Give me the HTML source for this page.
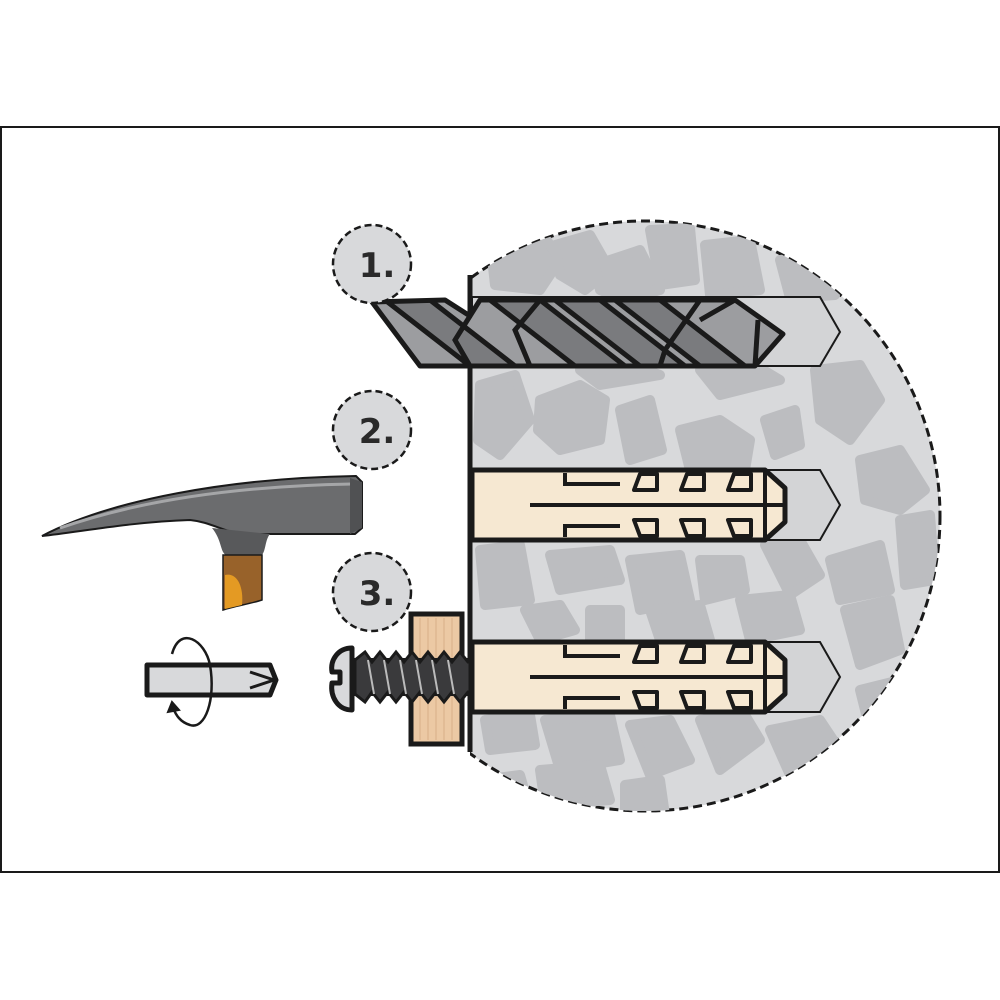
<!DOCTYPE html>
<html><head><meta charset="utf-8"><style>
html,body{margin:0;padding:0;background:#fff;width:1000px;height:1000px;overflow:hidden}
svg{display:block}
</style></head><body>
<svg width="1000" height="1000" viewBox="0 0 1000 1000" xmlns="http://www.w3.org/2000/svg">
<rect x="1" y="127" width="998" height="745" fill="#fff" stroke="#1a1a1a" stroke-width="2"/>
<defs>
<clipPath id="cc"><rect x="470" y="0" width="600" height="1000"/></clipPath>
<clipPath id="cs"><circle cx="645" cy="516" r="295"/></clipPath>
<clipPath id="dr"><path d="M372 302 L445 300 L470 316 L480 300 L735 300 L783 334 L755 366 L420 366 Z"/></clipPath>
<g id="anchor">
  <path d="M472 0 L765 0 L785 18 L785 52 L765 70 L472 70 Z" fill="#f6e8d2" stroke="#1a1a1a" stroke-width="5" stroke-linejoin="round"/>
  <path d="M765 2 L765 68 M530 35 L785 35" stroke="#1a1a1a" stroke-width="4" fill="none"/>
  <path d="M565 3 L565 14 L620 14 M565 67 L565 56 L620 56" stroke="#1a1a1a" stroke-width="4" fill="none"/>
  <g fill="#f6e8d2" stroke="#1a1a1a" stroke-width="4" stroke-linejoin="round">
    <path d="M640 4 L657 4 L657 20 L634 20 Z"/><path d="M687 4 L704 4 L704 20 L681 20 Z"/><path d="M734 4 L751 4 L751 20 L728 20 Z"/>
    <path d="M634 50 L657 50 L657 66 L640 66 Z"/><path d="M681 50 L704 50 L704 66 L687 66 Z"/><path d="M728 50 L751 50 L751 66 L734 66 Z"/>
  </g>
</g>
</defs>
<g clip-path="url(#cc)">
  <circle cx="645" cy="516" r="295" fill="#d8d9db" stroke="#1a1a1a" stroke-width="3" stroke-dasharray="9 5"/>
</g>
<g clip-path="url(#cs)" fill="#bcbdc0" stroke="#bcbdc0" stroke-width="10" stroke-linejoin="round">
  <g clip-path="url(#cc)">
  <path d="M490 240 L540 230 L560 260 L540 290 L495 285 Z"/>
  <path d="M555 245 L590 235 L610 270 L585 290 L560 275 Z"/>
  <path d="M595 265 L640 250 L660 290 L625 300 L600 290 Z"/>
  <path d="M650 230 L690 228 L695 280 L660 285 Z"/>
  <path d="M705 245 L750 240 L760 290 L710 295 Z"/>
  <path d="M780 260 L820 255 L835 295 L790 298 Z"/>
  <path d="M480 385 L515 375 L530 420 L500 455 L478 440 Z"/>
  <path d="M540 400 L580 385 L605 400 L600 440 L560 450 L538 430 Z"/>
  <path d="M620 410 L650 400 L662 450 L630 460 Z"/>
  <path d="M680 430 L720 420 L750 440 L745 470 L690 470 Z"/>
  <path d="M765 420 L795 410 L800 445 L775 455 Z"/>
  <path d="M815 370 L860 365 L880 400 L850 440 L820 420 Z"/>
  <path d="M580 370 L640 368 L660 375 L600 385 Z"/>
  <path d="M700 370 L760 368 L780 380 L720 395 Z"/>
  <path d="M860 460 L900 450 L925 490 L900 510 L865 500 Z"/>
  <path d="M480 550 L520 545 L530 600 L485 605 Z"/>
  <path d="M550 555 L610 550 L620 580 L560 590 Z"/>
  <path d="M630 560 L680 555 L690 600 L640 610 Z"/>
  <path d="M700 560 L740 560 L745 590 L705 600 Z"/>
  <path d="M765 545 L800 540 L820 575 L790 595 Z"/>
  <path d="M830 560 L880 545 L890 590 L840 600 Z"/>
  <path d="M900 520 L930 515 L935 580 L905 585 Z"/>
  <path d="M525 610 L560 605 L575 630 L540 640 Z"/>
  <path d="M590 610 L620 610 L620 640 L590 640 Z"/>
  <path d="M650 610 L700 605 L710 640 L660 640 Z"/>
  <path d="M740 600 L790 595 L800 630 L750 640 Z"/>
  <path d="M845 610 L890 600 L900 650 L860 665 Z"/>
  <path d="M860 690 L900 680 L910 720 L870 730 Z"/>
  <path d="M485 720 L530 715 L535 745 L490 750 Z"/>
  <path d="M545 720 L610 715 L620 760 L560 770 Z"/>
  <path d="M630 725 L670 720 L690 760 L650 775 Z"/>
  <path d="M700 720 L745 715 L760 740 L720 770 Z"/>
  <path d="M770 730 L820 720 L840 750 L790 775 Z"/>
  <path d="M540 770 L600 765 L610 800 L545 805 Z"/>
  <path d="M625 785 L660 780 L665 815 L625 815 Z"/>
  <path d="M480 780 L520 775 L530 810 L485 815 Z"/>
  </g>
</g>
<!-- holes -->
<path d="M472 297 L820 297 L840 332 L820 366 L472 366 Z" fill="#d3d4d6" stroke="#1a1a1a" stroke-width="2"/>
<path d="M472 470 L820 470 L840 505 L820 540 L472 540 Z" fill="#d3d4d6" stroke="#1a1a1a" stroke-width="2"/>
<path d="M472 642 L820 642 L840 677 L820 712 L472 712 Z" fill="#d3d4d6" stroke="#1a1a1a" stroke-width="2"/>
<!-- wall line -->
<path d="M470 275 L470 752" stroke="#1a1a1a" stroke-width="5"/>
<!-- drill -->
<g clip-path="url(#dr)">
  <rect x="360" y="295" width="430" height="75" fill="#9c9da0"/>
  <g fill="#7a7b7e" stroke="#1a1a1a" stroke-width="5" stroke-linejoin="round">
    <path d="M385 300 L430 300 L515 366 L470 366 Z"/>
    <path d="M490 300 L540 300 L625 366 L575 366 Z"/>
    <path d="M555 300 L600 300 L685 366 L640 366 Z"/>
    <path d="M615 300 L660 300 L745 366 L700 366 Z"/>
  </g>
  <g fill="none" stroke="#1a1a1a" stroke-width="5">
    <path d="M470 316 L455 340 L470 366"/>
    <path d="M540 300 L515 330 L530 366"/>
    <path d="M700 300 L665 350 L660 366"/>
    <path d="M735 300 L700 320"/>
    <path d="M755 366 L758 320"/>
  </g>
</g>
<path d="M372 302 L445 300 L470 316 L480 300 L735 300 L783 334 L755 366 L420 366 Z" fill="none" stroke="#1a1a1a" stroke-width="5" stroke-linejoin="round"/>
<!-- anchors -->
<use href="#anchor" x="0" y="470"/>
<use href="#anchor" x="0" y="642"/>
<!-- wood block -->
<rect x="411" y="614" width="51" height="130" fill="#ecc9a4" stroke="#1a1a1a" stroke-width="5"/>
<g stroke="#d9b088" stroke-width="1">
  <path d="M420 618V740M428 618V740M436 618V740M444 618V740M452 618V740"/>
</g>
<!-- screw -->
<path d="M352 660 L470 660 L470 694 L352 694 Z" fill="#c8c9cb" stroke="#1a1a1a" stroke-width="4"/>
<path d="M355 660 L365 652 L372 662 L380 652 L388 662 L396 652 L404 662 L412 652 L420 662 L428 652 L436 662 L444 652 L452 662 L460 652 L468 662 L470 662 L470 692 L468 692 L460 702 L452 692 L444 702 L436 692 L428 702 L420 692 L412 702 L404 692 L396 702 L388 692 L380 702 L372 692 L365 702 L355 694 Z" fill="#3a3a3c" stroke="#1a1a1a" stroke-width="3"/>
<g stroke="#bbb" stroke-width="2"><path d="M368 660 L374 694 M384 660 L390 694 M400 660 L406 694 M416 660 L422 694 M432 660 L438 694 M448 660 L454 694"/></g>
<path d="M352 648 C338 648 330 660 332 672 L340 672 L340 683 L332 683 C330 697 338 710 352 710 Z" fill="#d8d9db" stroke="#1a1a1a" stroke-width="5" stroke-linejoin="round"/>
<!-- hammer -->
<path d="M42 536 C110 500 230 478 356 476 L362 482 L362 528 L355 534 L240 534 C220 530 210 522 190 520 C130 522 80 532 42 536 Z" fill="#6b6c6e" stroke="#1a1a1a" stroke-width="2"/>
<path d="M60 528 C140 500 240 486 352 484" stroke="#a5a6a8" stroke-width="3" fill="none"/>
<path d="M350 478 L362 482 L362 528 L350 534 Z" fill="#505153"/>
<path d="M212 528 C222 540 220 552 226 555 L262 555 C266 550 265 540 270 534 Z" fill="#58595b"/>
<path d="M223 555 L262 555 L262 600 C250 604 235 606 223 610 Z" fill="#98622a" stroke="#1a1a1a" stroke-width="1.5"/>
<path d="M225 575 C236 572 244 585 242 605 L225 609 Z" fill="#e49a23"/>
<!-- screwdriver bit -->
<path d="M147 665 L270 665 L276 680 L270 695 L147 695 Z" fill="#d8d9db" stroke="#1a1a1a" stroke-width="5" stroke-linejoin="round"/>
<path d="M250 672 L274 680 L250 688" stroke="#1a1a1a" stroke-width="3" fill="none"/>
<path d="M172 654 C180 625 205 640 210 665 C216 700 205 730 190 725 C180 722 176 715 173 708" stroke="#1a1a1a" stroke-width="2.5" fill="none"/>
<path d="M168 712 L172 702 L179 710 Z" fill="#1a1a1a" stroke="#1a1a1a" stroke-width="2"/>
<!-- labels -->
<g fill="#d8d9db" stroke="#1a1a1a" stroke-width="2.5" stroke-dasharray="7 4">
  <circle cx="372" cy="264" r="39"/><circle cx="372" cy="430" r="39"/><circle cx="372" cy="592" r="39"/>
</g>
<g font-family="'DejaVu Sans','Liberation Sans',sans-serif" font-weight="bold" font-size="34" fill="#2a2a2a" text-anchor="middle">
  <text x="377" y="277">1.</text><text x="377" y="443">2.</text><text x="377" y="605">3.</text>
</g>
</svg>
</body></html>
